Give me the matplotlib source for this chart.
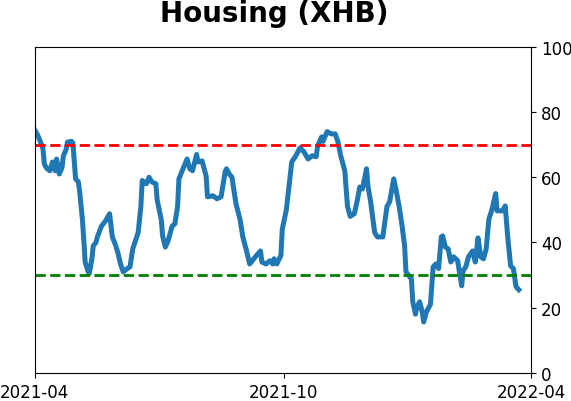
import numpy as np
import pandas as pd
import matplotlib
matplotlib.use("Agg")
from matplotlib import pyplot as plt
import matplotlib.dates as mdates

# days after 2021-04-01 and the indicator value
days = [0, 2, 4, 6, 7, 9, 11, 13, 15, 16, 18, 20, 21, 23, 24, 27, 28, 30, 32, 33,
        35, 36, 37, 39, 40, 42, 43, 45, 46, 49, 52, 55, 57, 59, 61, 63, 65, 68, 70, 72,
        76, 78, 79, 82, 84, 86, 89, 90, 93, 94, 96, 98, 101, 103, 105, 106, 109, 112, 114, 116,
        119, 120, 123, 126, 127, 131, 134, 137, 140, 141, 143, 145, 148, 151, 153, 156, 158, 160, 163, 166,
        167, 170, 173, 175, 176, 178, 181, 182, 185, 187, 189, 192, 195, 198, 201, 204, 207, 208, 211, 212,
        215, 218, 221, 223, 225, 228, 230, 232, 235, 237, 239, 241, 244, 245, 247, 250, 252, 256, 258, 259,
        261, 264, 266, 268, 270, 272, 273, 277, 278, 280, 281, 283, 285, 286, 288, 291, 292, 293, 295, 297,
        299, 300, 302, 304, 306, 308, 311, 314, 315, 317, 319, 322, 324, 326, 328, 330, 332, 334, 336, 339,
        340, 344, 346, 348, 350, 352, 354, 356]
values = [74.5, 73, 71, 68.7, 64, 62.6, 62, 64.7, 62, 65.6, 61, 63, 66.6, 68.5, 70.8, 71, 70.5, 59.5, 58.6, 55.5,
          47, 41, 34, 31.3, 30.4, 35, 39, 40, 41.7, 45, 46.6, 48.8, 41.7, 39.6, 37, 33.4, 31, 32, 32.5, 38,
          43, 51, 59, 58, 60, 58.6, 58, 53, 47, 42, 38.6, 40.5, 45, 45.7, 51, 59.5, 62.6, 65.6, 62.6, 62,
          67, 64.7, 65, 60.4, 54, 54.3, 53.4, 54, 61.7, 62.6, 61, 60, 51.8, 47, 41.7, 37, 33.4, 34.4, 36, 37.4,
          34, 33.4, 34.4, 33.4, 35, 33.4, 36, 44, 50, 57.4, 64.7, 66.6, 69, 67.8, 65.6, 66.6, 66.3, 69.6, 72.4, 71,
          74, 73.3, 73.3, 70.8, 66.6, 62, 51, 48, 48.8, 52.5, 57, 56.4, 62.6, 57.4, 52.5, 43, 41.7, 41.7, 48, 51,
          52.5, 59.5, 55.5, 51, 45.5, 39, 31, 28.8, 21.8, 18, 20, 21.8, 18.7, 15.6, 18.7, 21, 26.7, 32.5, 33.4, 32,
          41.7, 42, 38.6, 38, 34, 35.6, 34.4, 26.7, 31.3, 32.5, 35.6, 37.4, 34, 41.4, 35.6, 35, 38, 47.2, 49.7, 55,
          49.7, 49.7, 51.2, 41, 32.8, 32, 26.4, 25.5]
upper = 70
lower = 30

dates = pd.Timestamp("2021-04-01") + pd.to_timedelta(days, unit="D")

fig = plt.figure(figsize=(5.71, 4.02), dpi=100)
ax = fig.add_axes([0.061, 0.07, 0.869, 0.811])

ax.plot(dates, values, color="#1f77b4", linewidth=3.6)
ax.axhline(upper, color="red", linestyle="--", linewidth=2)
ax.axhline(lower, color="green", linestyle="--", linewidth=2)

ax.set_ylim(0, 100)
ax.set_xlim(pd.Timestamp("2021-04-01"), pd.Timestamp("2022-04-01"))
ax.set_xticks([pd.Timestamp("2021-04-01"), pd.Timestamp("2021-10-01"), pd.Timestamp("2022-04-01")])
ax.xaxis.set_major_formatter(mdates.DateFormatter("%Y-%m"))
ax.yaxis.tick_right()
ax.tick_params(labelsize=12)

fig.suptitle("Housing (XHB)", fontsize=20, fontweight="bold", x=0.48, y=1.0)

fig.savefig("out.png", dpi=100)
